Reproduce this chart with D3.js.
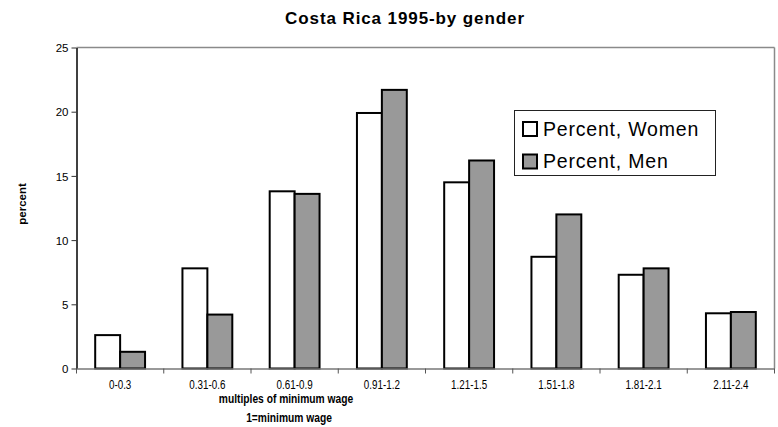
<!DOCTYPE html>
<html><head><meta charset="utf-8">
<script src="https://cdn.jsdelivr.net/npm/d3@7"></script>
<style>
html,body{margin:0;padding:0;background:#fff;}
svg{display:block;}
</style></head>
<body>
<svg id="chart" width="778" height="427"></svg>
<script>
const categories = ["0-0.3","0.31-0.6","0.61-0.9","0.91-1.2","1.21-1.5","1.51-1.8","1.81-2.1","2.11-2.4"];
const seriesNames = ["Percent, Women","Percent, Men"];
const women = [2.6, 7.8, 13.8, 19.9, 14.5, 8.7, 7.3, 4.3];
const men = [1.3, 4.2, 13.6, 21.7, 16.2, 12.0, 7.8, 4.4];
const yTicks = [0,5,10,15,20,25];
const titleText = "Costa Rica 1995-by gender";
const yLabel = "percent";
const xLabel1 = "multiples of minimum wage";
const xLabel2 = "1=minimum wage";

const fills = ["#ffffff","#999999"];
const FONT = "'Liberation Sans', Arial, sans-serif";
const svg = d3.select("#chart");
const L = 76.5, R = 774.5, T = 47.5, B = 368.5;

const x0 = d3.scaleBand().domain(categories).range([L,R]).paddingInner(0).paddingOuter(0);
const x1 = d3.scaleBand().domain(seriesNames).range([0,x0.bandwidth()]).paddingInner(0).paddingOuter(0.75);
const y = d3.scaleLinear().domain([0,25]).range([B,T]);

const data = categories.map((c,i)=>({cat:c, vals:[{s:seriesNames[0],v:women[i]},{s:seriesNames[1],v:men[i]}]}));

// frame top/right
svg.append("line").attr("x1",L).attr("x2",R).attr("y1",T).attr("y2",T).attr("stroke","#8a8a8a").attr("stroke-width",1.5);
svg.append("line").attr("x1",R).attr("x2",R).attr("y1",T).attr("y2",B).attr("stroke","#8a8a8a").attr("stroke-width",1.5);

// bars
const g = svg.append("g");
g.selectAll("g.grp").data(data).join("g").attr("class","grp")
  .attr("transform",d=>`translate(${x0(d.cat)},0)`)
  .selectAll("rect").data(d=>d.vals).join("rect")
  .attr("x",d=>x1(d.s)).attr("width",x1.bandwidth())
  .attr("y",d=>y(d.v)).attr("height",d=>y(0)-y(d.v))
  .attr("fill",(d,i)=>fills[i]).attr("stroke","#000").attr("stroke-width",2);

// y axis
const yAxis = d3.axisLeft(y).tickValues(yTicks).tickSize(5).tickSizeOuter(0).tickFormat(d3.format("d"));
const ya = svg.append("g").attr("transform",`translate(${L},0)`).call(yAxis);
ya.select(".domain").attr("stroke","#000").attr("stroke-width",1.5);
ya.selectAll(".tick line").attr("stroke","#333");
ya.selectAll(".tick text").attr("font-family",FONT).attr("font-size","11.5px").attr("fill","#000").attr("x",-8).attr("dy","0.36em");

// x axis
const xa = svg.append("g").attr("transform",`translate(0,${B})`).call(d3.axisBottom(x0).tickSize(0).tickSizeOuter(0));
xa.select(".domain").attr("stroke","#777").attr("stroke-width",1.5);
xa.selectAll(".tick text").attr("font-family",FONT).attr("font-size","12px").attr("fill","#000")
  .attr("y",0).attr("dy",0).attr("transform","translate(0,20.5) scale(0.82,1)");
// boundary ticks
const bounds = categories.map(c=>x0(c)).concat([x0(categories[categories.length-1])+x0.bandwidth()]);
svg.append("g").selectAll("line").data(bounds).join("line")
  .attr("x1",d=>d).attr("x2",d=>d).attr("y1",B).attr("y2",B+5).attr("stroke","#555").attr("stroke-width",1);

// title
svg.append("text").attr("x",405).attr("y",24).attr("text-anchor","middle")
  .attr("font-family",FONT).attr("font-weight","bold").attr("font-size","17px")
  .attr("letter-spacing","0.9px").text(titleText);

// axis titles
svg.append("text").attr("transform",`translate(26,204) rotate(-90)`).attr("text-anchor","middle")
  .attr("font-family",FONT).attr("font-weight","bold").attr("font-size","11.5px").text(yLabel);
svg.append("text").attr("transform","translate(286,402.5) scale(0.82,1)").attr("text-anchor","middle")
  .attr("font-family",FONT).attr("font-weight","bold").attr("font-size","12.5px").text(xLabel1);
svg.append("text").attr("transform","translate(289,422) scale(0.82,1)").attr("text-anchor","middle")
  .attr("font-family",FONT).attr("font-weight","bold").attr("font-size","12.5px").text(xLabel2);

// legend
const lg = svg.append("g");
lg.append("rect").attr("x",514.5).attr("y",110.5).attr("width",201).attr("height",65).attr("fill","#fff").attr("stroke","#222").attr("stroke-width",1);
const items = lg.selectAll("g.it").data(seriesNames).join("g").attr("class","it")
  .attr("transform",(d,i)=>`translate(523,${122+i*32.5})`);
items.append("rect").attr("width",14).attr("height",14).attr("fill",(d,i)=>fills[i]).attr("stroke","#000").attr("stroke-width",2);
items.append("text").attr("x",20).attr("y",13.5).attr("font-family",FONT).attr("font-size","19.5px")
  .attr("letter-spacing","0.8px").attr("fill","#000").text(d=>d);
</script>
</body></html>
